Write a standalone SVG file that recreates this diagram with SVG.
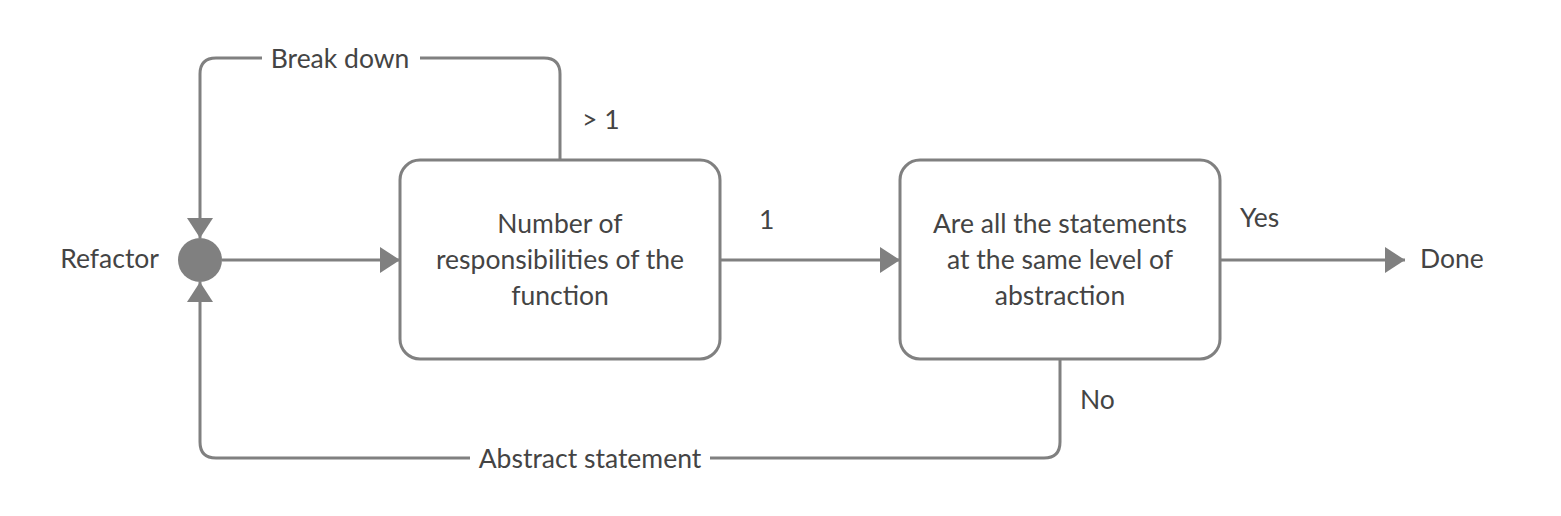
<svg xmlns="http://www.w3.org/2000/svg" width="1561" height="516" viewBox="0 0 1561 516">
<style>
.ln{fill:none;stroke:#808080;stroke-width:3;stroke-linejoin:round}
.box{fill:#fff;stroke:#808080;stroke-width:3}
.t{font-family:Lato,"Open Sans","Liberation Sans",sans-serif;font-size:26.5px;fill:#444}
.c{text-anchor:middle}
.bg{fill:#fff}
</style>
<defs>
<marker id="ah" viewBox="0 0 20 26" refX="20" refY="13" markerWidth="20" markerHeight="26" markerUnits="userSpaceOnUse" orient="auto">
<path d="M0,0 L20,13 L0,26 Z" fill="#808080"/>
</marker>
</defs>
<rect width="1561" height="516" fill="#fff"/>
<g id="connectors">
<path class="ln" d="M560,160 V74 Q560,58 544,58 H216 Q200,58 200,74 V238" marker-end="url(#ah)"/>
<path class="ln" d="M1060,359 V442 Q1060,458 1044,458 H216 Q200,458 200,442 V282" marker-end="url(#ah)"/>
<path class="ln" d="M222,260 H400" marker-end="url(#ah)"/>
<path class="ln" d="M720,260 H900" marker-end="url(#ah)"/>
<path class="ln" d="M1220,260 H1405" marker-end="url(#ah)"/>
<rect class="bg" x="262" y="43" width="158" height="32"/>
<text class="t c" x="340" y="68">Break down</text>
<rect class="bg" x="470" y="443" width="240" height="32"/>
<text class="t c" x="590" y="468">Abstract statement</text>
<text class="t" x="582" y="129">&gt; 1</text>
<text class="t" x="759" y="229">1</text>
<text class="t" x="1240" y="227">Yes</text>
<text class="t" x="1080" y="409">No</text>
</g>
<g id="refactor">
<circle cx="200" cy="260" r="22" fill="#808080"/>
<text class="t" x="159" y="268" text-anchor="end">Refactor</text>
</g>
<g id="responsibilities">
<rect class="box" x="400" y="160" width="320" height="199" rx="20"/>
<text class="t c" x="560" y="233">Number of</text>
<text class="t c" x="560" y="269">responsibilities of the</text>
<text class="t c" x="560" y="305">function</text>
</g>
<g id="abstraction">
<rect class="box" x="900" y="160" width="320" height="199" rx="20"/>
<text class="t c" x="1060" y="233">Are all the statements</text>
<text class="t c" x="1060" y="269">at the same level of</text>
<text class="t c" x="1060" y="305">abstraction</text>
</g>
<g id="done">
<text class="t" x="1420" y="268">Done</text>
</g>
</svg>
